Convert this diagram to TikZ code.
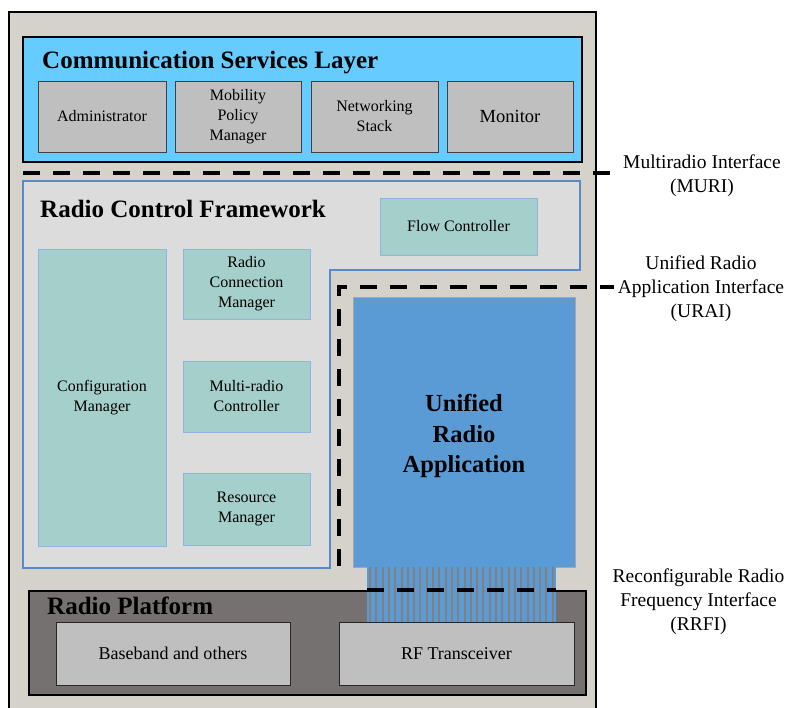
\documentclass[tikz,border=0pt]{standalone}
\usepackage{fontspec}
\setmainfont{Liberation Serif}
\definecolor{bgbeige}{HTML}{D5D1CB}
\definecolor{csblue}{HTML}{66CCFF}
\definecolor{boxgray}{HTML}{BFBFBF}
\definecolor{rcfgray}{HTML}{DCDCDC}
\definecolor{rcfedge}{HTML}{5A8AC6}
\definecolor{teal}{HTML}{A5CFCB}
\definecolor{tealedge}{HTML}{8EB4E3}
\definecolor{urablue}{HTML}{5B9BD5}
\definecolor{rpgray}{HTML}{767171}
\definecolor{stripegray}{HTML}{808080}
\tikzset{
  grayb/.style={draw=black!75, line width=1pt, fill=boxgray, align=center, inner sep=0pt, font=\fontsize{16}{20}\selectfont},
  tealb/.style={draw=tealedge, line width=0.8pt, fill=teal, align=center, inner sep=0pt, font=\fontsize{16}{20}\selectfont},
  titletxt/.style={anchor=base west, inner sep=0pt, font=\fontsize{25}{30}\selectfont\bfseries},
  sidetxt/.style={align=center, inner sep=0pt, font=\fontsize{19.5}{24}\selectfont},
  ifline/.style={line width=4pt, dash pattern=on 17pt off 13pt}
}
\begin{document}
\begin{tikzpicture}[x=1pt,y=-1pt]
\useasboundingbox (0,0) rectangle (789,707);
\fill[white] (0,0) rectangle (789,707);
% outer frame
\filldraw[fill=bgbeige, draw=black, line width=1.6pt] (9,12) -- (9,712) -- (596,712) -- (596,12) -- cycle;
% communication services layer
\node[draw=black, line width=1.5pt, fill=csblue, minimum width=559, minimum height=125, inner sep=0pt] (csl) at (302.5,99.5) {};
\node[titletxt] (csltitle) at (42,68) {Communication Services Layer};
\node[grayb, minimum width=128, minimum height=71] (admin) at (102,116.5) {Administrator};
\node[grayb, minimum width=126, minimum height=71] (mob) at (238,116.5) {Mobility\\Policy\\Manager};
\node[grayb, minimum width=127, minimum height=71] (net) at (374.5,116.5) {Networking\\Stack};
\node[grayb, minimum width=126, minimum height=71, font=\fontsize{18.5}{22}\selectfont] (mon) at (510,116.5) {Monitor};
% MURI line
\coordinate (muriA) at (23,173);
\coordinate (muriB) at (614,173);
\draw[ifline] (muriA) -- (muriB);
% radio control framework
\filldraw[fill=rcfgray, draw=rcfedge, line width=1.3pt] (23,181) -- (580,181) -- (580,270) -- (330,270) -- (330,568) -- (23,568) -- cycle;
\node[titletxt] (rcftitle) at (40,217) {Radio Control Framework};
\node[tealb, minimum width=157, minimum height=57] (flow) at (458.5,226.5) {Flow Controller};
\node[tealb, minimum width=128, minimum height=297] (conf) at (102,397.5) {Configuration\\Manager};
\node[tealb, minimum width=127, minimum height=70] (rcm) at (246.5,284) {Radio\\Connection\\Manager};
\node[tealb, minimum width=127, minimum height=71] (mrc) at (246.5,396.5) {Multi-radio\\Controller};
\node[tealb, minimum width=127, minimum height=72] (rm) at (246.5,509) {Resource\\Manager};
% URAI line
\coordinate (uraiA) at (339,566);
\coordinate (uraiC) at (339,287);
\coordinate (uraiB) at (614,287);
\draw[ifline] (uraiA) -- (uraiC) -- (uraiB);
% unified radio application
\node[draw=black!35, line width=1pt, fill=urablue, minimum width=222, minimum height=270, inner sep=0pt] (ura) at (464,432) {};
\node[inner sep=0pt, align=center, font=\fontsize{24.5}{30.5}\selectfont\bfseries] (uratxt) at ([yshift=-4pt]ura.center) {Unified\\Radio\\Application};
% stripes
\begin{scope}
\clip (367,567) rectangle (556,622);
\fill[urablue] (367,567) rectangle (556,622);
\foreach \i in {0,...,30} {
  \fill[stripegray] ({369+\i*6.3},567) rectangle ({371+\i*6.3},622);
}
\end{scope}
% radio platform
\node[draw=black, line width=1.6pt, fill=rpgray, minimum width=557, minimum height=104, inner sep=0pt] (rp) at (307.5,643) {};
% stripes continue over the platform top
\begin{scope}
\clip (367,590) rectangle (556,622);
\fill[urablue] (367,590) rectangle (556,622);
\foreach \i in {0,...,30} {
  \fill[stripegray] ({369+\i*6.3},590) rectangle ({371+\i*6.3},622);
}
\end{scope}
\node[titletxt] (rptitle) at (47,614) {Radio Platform};
\node[grayb, minimum width=234, minimum height=63, draw=black!85, font=\fontsize{18}{22}\selectfont] (bb) at (173,653.5) {Baseband and others};
\node[grayb, minimum width=235, minimum height=63, draw=black!85, font=\fontsize{18}{22}\selectfont] (rf) at (456.5,653.5) {RF Transceiver};
% RRFI line
\coordinate (rrfiA) at (367,590);
\coordinate (rrfiB) at (556,590);
\draw[ifline] (rrfiA) -- (rrfiB);
% side labels
\node[sidetxt] (muri) at (702,176) {Multiradio Interface\\(MURI)};
\node[sidetxt] (urai) at (701,288.5) {Unified Radio\\Application Interface\\(URAI)};
\node[sidetxt] (rrfi) at (698.5,602) {Reconfigurable Radio\\Frequency Interface\\(RRFI)};
\end{tikzpicture}
\end{document}
